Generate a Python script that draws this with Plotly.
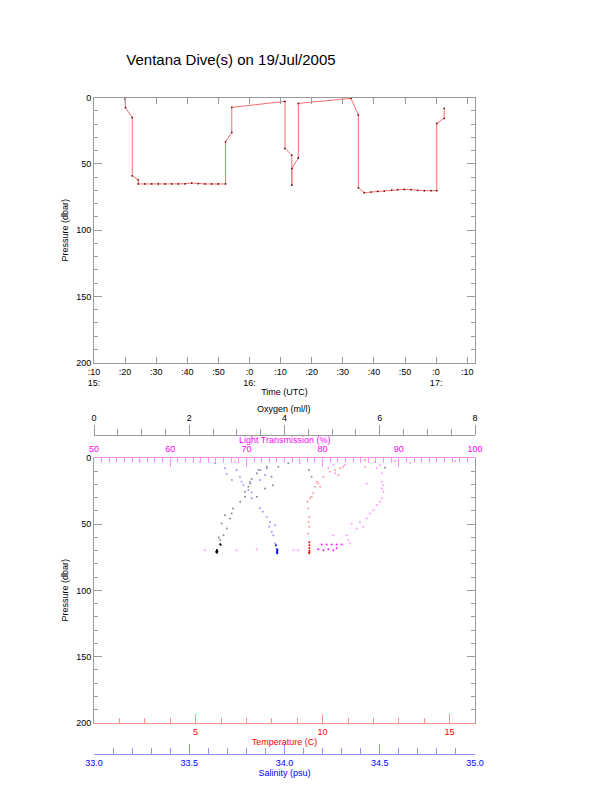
import plotly.graph_objects as go

PAGE_W, PAGE_H = 612, 785
BODY = 8  # default body margin of the html page
W, H = PAGE_W - BODY, PAGE_H - BODY
TITLE = "Ventana Dive(s) on 19/Jul/2005"
DAY = "2005-07-19 "

# ---------------- top panel: pressure vs time ----------------
dive_time = ["15:20:00", "15:20:06", "15:22:18", "15:22:18", "15:24:12", "15:24:12",
             "15:26:24", "15:28:33", "15:30:40", "15:32:50", "15:34:59", "15:37:06",
             "15:39:16", "15:41:25", "15:43:32", "15:45:41", "15:47:50", "15:49:58",
             "15:52:18", "15:52:18", "15:54:18", "15:54:18", "16:11:24", "16:11:24",
             "16:13:36", "16:13:36", "16:13:36", "16:15:42", "16:15:42", "16:32:36",
             "16:35:00", "16:35:00", "16:36:54", "16:39:04", "16:41:13", "16:43:20",
             "16:45:43", "16:47:39", "16:49:46", "16:51:56", "16:54:05", "16:56:13",
             "16:58:22", "17:00:12", "17:00:12", "17:02:36", "17:02:36"]
dive_pressure = [1.0, 7.5, 15.0, 59.0, 62.0, 65.1,
                 65.1, 65.1, 65.1, 65.1, 65.1, 65.1,
                 65.0, 64.4, 64.9, 65.1, 65.1, 65.1,
                 65.1, 33.3, 26.2, 7.3, 2.8, 38.3,
                 43.4, 66.0, 53.5, 45.5, 4.3, 0.5,
                 13.0, 68.0, 71.7, 71.2, 70.7, 70.5,
                 69.7, 69.4, 69.2, 69.4, 69.9, 70.2,
                 70.2, 70.2, 19.4, 15.6, 8.0]

time_tickvals = ["15:10", "15:20", "15:30", "15:40", "15:50", "16:00", "16:10",
                 "16:20", "16:30", "16:40", "16:50", "17:00", "17:10"]
time_ticktext = [":10<br>15:", ":20", ":30", ":40", ":50", ":0<br>16:", ":10",
                 ":20", ":30", ":40", ":50", ":0<br>17:", ":10"]
time_range = ["15:10:00", "17:12:30"]

pressure_ticks = [0, 50, 100, 150, 200]

# ---------------- bottom panel: profiles ----------------
oxy_profile_val = [2.68, 2.72, 2.79, 2.75, 2.86, 2.89, 2.92, 3.07, 3.17, 3.17, 3.24, 3.28,
                   3.31, 3.42, 3.49, 3.63, 3.87, 4.08, 3.59, 3.76, 3.73, 3.42, 4.57, 4.51,
                   6.11, 2.65, 2.62]
oxy_profile_p = [49.5, 58.3, 53.3, 43.2, 45.7, 41.9, 38.1, 33.1, 29.3, 25.5, 21.7, 19.2,
                 15.9, 11.6, 9.1, 6.6, 6.6, 4.0, 23.0, 20.5, 14.2, 29.3, 14.2, 9.1,
                 7.3, 62.0, 60.0]
oxy_bottom_val = [2.57, 2.58, 2.58, 2.59, 2.58, 2.65, 2.66, 2.57]
oxy_bottom_p = [71.0, 70.2, 69.5, 70.8, 71.6, 65.2, 65.5, 70.6]

sal_profile_val = [33.950, 33.941, 33.933, 33.950, 33.920, 33.924, 33.907, 33.886, 33.871,
                   33.828, 33.828, 33.810, 33.784, 33.775, 33.766, 33.749, 33.688, 33.635,
                   33.819, 33.871, 33.862, 33.907, 33.898, 33.697, 33.724]
sal_profile_p = [64.6, 58.3, 55.8, 50.8, 52.0, 48.3, 44.5, 40.7, 37.7,
                 30.5, 26.0, 24.2, 20.5, 18.0, 14.2, 9.1, 7.8, 4.0,
                 18.0, 16.7, 9.1, 7.8, 12.9, 12.1, 16.7]
sal_bottom_val = [33.962, 33.962, 33.961, 33.955, 33.960, 33.963]
sal_bottom_p = [70.5, 72.0, 68.9, 65.9, 71.2, 69.6]

temp_profile_val = [9.44, 9.48, 9.44, 9.48, 9.44, 9.40, 9.50, 9.57, 9.63, 9.70, 9.83, 9.77,
                    9.90, 10.03, 10.29, 10.49, 10.62, 10.69, 10.81, 11.67, 11.67]
temp_profile_p = [57.0, 52.0, 48.3, 44.5, 38.1, 33.1, 30.5, 29.3, 26.7, 21.7, 19.2, 18.0,
                  21.7, 14.2, 10.4, 9.1, 12.9, 7.8, 6.6, 6.6, 1.5]
temp_bottom_val = [9.48, 9.48, 9.48, 9.48, 9.48, 9.47]
temp_bottom_p = [71.2, 68.2, 65.9, 63.6, 70.0, 72.0]

lt_profile_val = [81.40, 83.16, 83.37, 83.60, 83.82, 84.48, 84.91, 85.34, 85.79, 86.22,
                  86.65, 87.10, 87.53, 87.76, 87.97, 87.76, 87.97, 87.76, 87.76, 87.10,
                  87.53, 86.88, 85.79, 81.40, 80.75, 81.63,
                  64.57, 68.73, 71.35, 76.16, 76.81,
                  56.0, 63.9, 68.5, 77.0, 82.9, 89.5, 91.5, 97.4]
lt_profile_p = [58.3, 58.3, 62.1, 64.6, 49.5, 53.3, 48.3, 52.0, 45.7, 41.9,
                39.4, 35.6, 33.1, 30.5, 25.5, 23.0, 20.5, 18.0, 11.6, 7.8,
                5.3, 2.8, 19.2, 5.3, 7.8, 11.6,
                69.7, 69.7, 68.9, 69.7, 69.7,
                2.3, 3.0, 3.0, 3.8, 5.3, 2.3, 3.8, 2.3]
lt_bottom_val = [79.88, 80.54, 81.19, 81.85, 82.51, 79.44, 80.09, 80.75, 81.40, 81.85]
lt_bottom_p = [65.4, 65.4, 65.4, 65.4, 65.4, 68.9, 69.7, 68.9, 69.7, 68.2]


def fx(px):
    return (px - BODY) / W


def fy(py):
    return 1 - (py - BODY) / H


FONT = "Liberation Sans, Arial, sans-serif"
GRAY = "#9a9a9a"
XDOM = [fx(94), fx(475)]

fig = go.Figure()

fig.add_trace(go.Scatter(
    x=[DAY + t for t in dive_time], y=dive_pressure, mode="lines+markers",
    line=dict(color="rgb(255,110,110)", width=1),
    marker=dict(color="rgb(90,20,20)", size=1.8),
    xaxis="x", yaxis="y", showlegend=False))


def dots(xv, yv, xa, color, op):
    fig.add_trace(go.Scatter(x=xv, y=yv, mode="markers", xaxis=xa, yaxis="y2",
                             marker=dict(color=color, size=2, opacity=op),
                             showlegend=False))


dots(oxy_profile_val, oxy_profile_p, "x4", "black", 0.45)
dots(oxy_bottom_val, oxy_bottom_p, "x4", "black", 1.0)
dots(sal_profile_val, sal_profile_p, "x5", "blue", 0.4)
dots(sal_bottom_val, sal_bottom_p, "x5", "blue", 1.0)
dots(temp_profile_val, temp_profile_p, "x2", "red", 0.4)
dots(temp_bottom_val, temp_bottom_p, "x2", "red", 1.0)
dots(lt_profile_val, lt_profile_p, "x3", "magenta", 0.4)
dots(lt_bottom_val, lt_bottom_p, "x3", "magenta", 0.9)

tf = dict(family=FONT, size=9, color="black")

yax_common = dict(
    range=[200, 0], tickvals=pressure_ticks, ticks="inside", ticklen=8, tickcolor=GRAY,
    showline=True, linecolor=GRAY, linewidth=1, mirror="ticks", showgrid=False,
    zeroline=False, tickfont=tf, automargin=False, ticklabelstandoff=0,
    minor=dict(dtick=10, ticks="inside", ticklen=4, tickcolor=GRAY),
    title=dict(text="Pressure (dbar)", font=tf, standoff=6),
)

fig.update_layout(
    template="none",
    width=W, height=H, margin=dict(l=0, r=0, t=0, b=0, pad=0),
    paper_bgcolor="white", plot_bgcolor="white",
    font=dict(family=FONT, size=9, color="black"),
    title=dict(text=TITLE, x=fx(231), xanchor="center", y=fy(60), yanchor="middle",
               font=dict(family=FONT, size=15, color="black")),
    xaxis=dict(
        domain=XDOM, anchor="y", type="date", automargin=False,
        range=[DAY + time_range[0], DAY + time_range[1]],
        tickvals=[DAY + t for t in time_tickvals], ticktext=time_ticktext,
        ticks="inside", ticklen=6, tickcolor=GRAY, showline=True, linecolor=GRAY,
        mirror="ticks", showgrid=False, zeroline=False, tickfont=tf,
        ticklabelstandoff=0,
        title=dict(text="Time (UTC)", font=tf, standoff=1),
    ),
    yaxis=dict(domain=[fy(362.7), fy(97.7)], anchor="x", **yax_common),
    yaxis2=dict(domain=[fy(722.7), fy(458)], anchor="x2", **yax_common),
    xaxis2=dict(
        domain=XDOM, anchor="y2", side="bottom", range=[1, 16], tick0=0, dtick=5,
        automargin=False,
        ticks="inside", ticklen=9, tickcolor="#ff9090", showline=True,
        linecolor="#ff9090", showgrid=False, zeroline=False,
        tickfont=dict(family=FONT, size=9, color="red"),
        minor=dict(dtick=1, ticks="inside", ticklen=5, tickcolor="#ff9090"),
        title=dict(text="Temperature (C)", font=dict(family=FONT, size=9, color="red"),
                   standoff=3),
    ),
    xaxis3=dict(
        domain=XDOM, anchor="y2", overlaying="x2", side="top", range=[50, 100], dtick=10,
        automargin=False, ticklabelstandoff=1,
        ticks="inside", ticklen=9, tickcolor="#ff90ff", showline=True,
        linecolor="#ff90ff", showgrid=False, zeroline=False,
        tickfont=dict(family=FONT, size=9, color="magenta"),
        minor=dict(dtick=1, ticks="inside", ticklen=5, tickcolor="#ff90ff"),
    ),
    xaxis4=dict(
        domain=XDOM, anchor="free", position=fy(434.5), overlaying="x2", side="top",
        automargin=False,
        range=[0, 8], dtick=2, ticks="outside", ticklen=10, tickcolor=GRAY,
        showline=True, linecolor=GRAY, showgrid=False, zeroline=False, tickfont=tf,
        minor=dict(dtick=0.5, ticks="outside", ticklen=6, tickcolor=GRAY),
    ),
    xaxis5=dict(
        domain=XDOM, anchor="free", position=fy(754.3), overlaying="x2", side="bottom",
        automargin=False,
        range=[33, 35], dtick=0.5, tickformat=".1f", ticks="inside", ticklen=10,
        tickcolor="#9090ff", showline=True, linecolor="#9090ff", showgrid=False,
        zeroline=False, tickfont=dict(family=FONT, size=9, color="blue"),
        minor=dict(dtick=0.1, ticks="inside", ticklen=6, tickcolor="#9090ff"),
        title=dict(text="Salinity (psu)", font=dict(family=FONT, size=9, color="blue"),
                   standoff=0),
    ),
    annotations=[
        dict(text="Oxygen (ml/l)", x=fx(284), y=fy(409), xref="paper", yref="paper",
             xanchor="center", yanchor="middle", showarrow=False, font=tf),
        dict(text="Light Transmission (%)", x=fx(285), y=fy(440), xref="paper",
             yref="paper", xanchor="center", yanchor="middle", showarrow=False,
             font=dict(family=FONT, size=9, color="magenta")),
    ],
)

fig.write_html("out.html")
